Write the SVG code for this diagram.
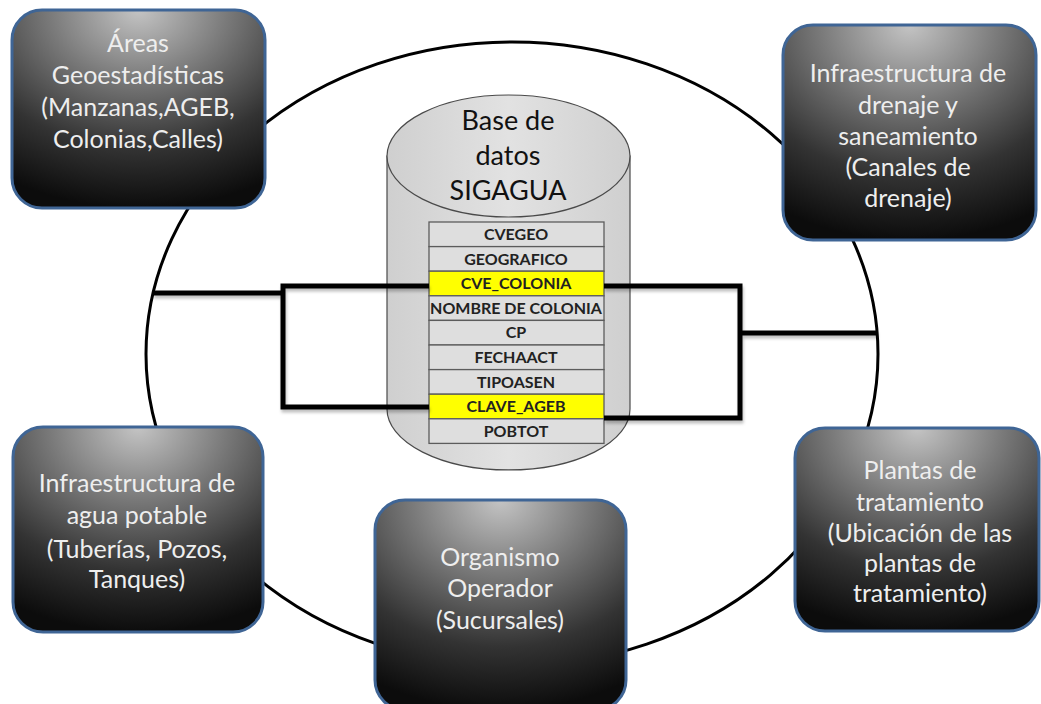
<svg xmlns="http://www.w3.org/2000/svg" width="1041" height="704" viewBox="0 0 1041 704">
  <defs>
    <radialGradient id="boxFill" cx="0.5" cy="0" r="1" fx="0.5" fy="0">
      <stop offset="0" stop-color="#c4c4c4"/>
      <stop offset="0.35" stop-color="#7a7a7a"/>
      <stop offset="0.7" stop-color="#333333"/>
      <stop offset="1" stop-color="#0c0c0c"/>
    </radialGradient>
    <linearGradient id="cylFill" x1="0" y1="0" x2="1" y2="0">
      <stop offset="0" stop-color="#cfcfcf"/>
      <stop offset="0.5" stop-color="#e2e2e2"/>
      <stop offset="1" stop-color="#cfcfcf"/>
    </linearGradient>
    <filter id="lineShadow" x="-5%" y="-20%" width="110%" height="140%">
      <feDropShadow dx="1" dy="3" stdDeviation="1.5" flood-color="#000" flood-opacity="0.25"/>
    </filter>
  </defs>
  <style>
    .box { fill: url(#boxFill); stroke: #3f6595; stroke-width: 3; }
    .boxText { font-family: Lato, "Liberation Sans", sans-serif; font-size: 25px; fill: #eeeeee; text-anchor: middle; }
    .cyl { fill: url(#cylFill); stroke: #4a4a4a; stroke-width: 1.2; }
    .cylText { font-family: Lato, "Liberation Sans", sans-serif; font-size: 27px; fill: #111111; text-anchor: middle; }
    .row { fill: #dedede; stroke: #5c5c5c; stroke-width: 1.3; }
    .rowKey { fill: #ffff00; stroke: #5c5c5c; stroke-width: 1.3; }
    .rowText { font-family: Lato, "Liberation Sans", sans-serif; font-size: 16px; font-weight: bold; fill: #222222; text-anchor: middle; }
    .link { fill: none; stroke: #000000; stroke-width: 5; stroke-linejoin: miter; }
  </style>

  <rect width="1041" height="704" fill="#ffffff"/>

  <!-- outer ring joining the themes -->
  <ellipse cx="512" cy="354" rx="366" ry="312" fill="none" stroke="#000" stroke-width="3"/>

  <!-- central database -->
  <g id="database">
    <path class="cyl" d="M387,156 L387,409 A121.5,61 0 0 0 630,409 L630,156 Z"/>
    <ellipse class="cyl" cx="508.5" cy="156" rx="121.5" ry="61"/>
    <text class="cylText" x="508" y="130">Base de</text>
    <text class="cylText" x="508" y="165">datos</text>
    <text class="cylText" x="508" y="200">SIGAGUA</text>
    <g id="fields">
      <rect class="row" x="429" y="222" width="175" height="24.6"/>
      <rect class="row" x="429" y="246.6" width="175" height="24.6"/>
      <rect class="rowKey" x="429" y="271.2" width="175" height="24.6"/>
      <rect class="row" x="429" y="295.8" width="175" height="24.6"/>
      <rect class="row" x="429" y="320.4" width="175" height="24.6"/>
      <rect class="row" x="429" y="345" width="175" height="24.6"/>
      <rect class="row" x="429" y="369.6" width="175" height="24.6"/>
      <rect class="rowKey" x="429" y="394.2" width="175" height="24.6"/>
      <rect class="row" x="429" y="418.8" width="175" height="24.6"/>
      <text class="rowText" x="516" y="240">CVEGEO</text>
      <text class="rowText" x="516" y="264.6">GEOGRAFICO</text>
      <text class="rowText" x="516" y="289.2">CVE_COLONIA</text>
      <text class="rowText" x="516" y="313.8">NOMBRE DE COLONIA</text>
      <text class="rowText" x="516" y="338.4">CP</text>
      <text class="rowText" x="516" y="363">FECHAACT</text>
      <text class="rowText" x="516" y="387.6">TIPOASEN</text>
      <text class="rowText" x="516" y="412.2">CLAVE_AGEB</text>
      <text class="rowText" x="516" y="436.8">POBTOT</text>
    </g>
  </g>

  <!-- key links between the ring and the table -->
  <g id="connectors" filter="url(#lineShadow)">
    <path class="link" d="M153,293 L283,293"/>
    <path class="link" d="M429,286 L283,286 L283,407 L429,407"/>
    <path class="link" d="M604,286 L740,286 L740,418 L604,418"/>
    <path class="link" d="M740,333 L877,333"/>
  </g>

  <g id="areas">
    <rect class="box" x="12" y="10" width="253" height="198" rx="30"/>
    <text class="boxText" x="138" y="52">Áreas</text>
    <text class="boxText" x="138" y="84">Geoestadísticas</text>
    <text class="boxText" x="138" y="116">(Manzanas,AGEB,</text>
    <text class="boxText" x="138" y="148">Colonias,Calles)</text>
  </g>

  <g id="drenaje">
    <rect class="box" x="783" y="25" width="253" height="215" rx="30"/>
    <text class="boxText" x="908" y="82">Infraestructura  de</text>
    <text class="boxText" x="908" y="114">drenaje  y</text>
    <text class="boxText" x="908" y="145">saneamiento</text>
    <text class="boxText" x="908" y="176">(Canales  de</text>
    <text class="boxText" x="908" y="207">drenaje)</text>
  </g>

  <g id="agua-potable">
    <rect class="box" x="13" y="427" width="250" height="205" rx="30"/>
    <text class="boxText" x="137" y="492">Infraestructura  de</text>
    <text class="boxText" x="137" y="524">agua potable</text>
    <text class="boxText" x="137" y="558">(Tuberías,  Pozos,</text>
    <text class="boxText" x="137" y="588">Tanques)</text>
  </g>

  <g id="organismo">
    <rect class="box" x="375" y="500" width="251" height="210" rx="30"/>
    <text class="boxText" x="500" y="566">Organismo</text>
    <text class="boxText" x="500" y="597">Operador</text>
    <text class="boxText" x="500" y="629">(Sucursales)</text>
  </g>

  <g id="plantas">
    <rect class="box" x="795" y="428" width="244" height="203" rx="30"/>
    <text class="boxText" x="920" y="479">Plantas de</text>
    <text class="boxText" x="920" y="511">tratamiento</text>
    <text class="boxText" x="920" y="542">(Ubicación de las</text>
    <text class="boxText" x="920" y="572">plantas de</text>
    <text class="boxText" x="920" y="602">tratamiento)</text>
  </g>
</svg>
